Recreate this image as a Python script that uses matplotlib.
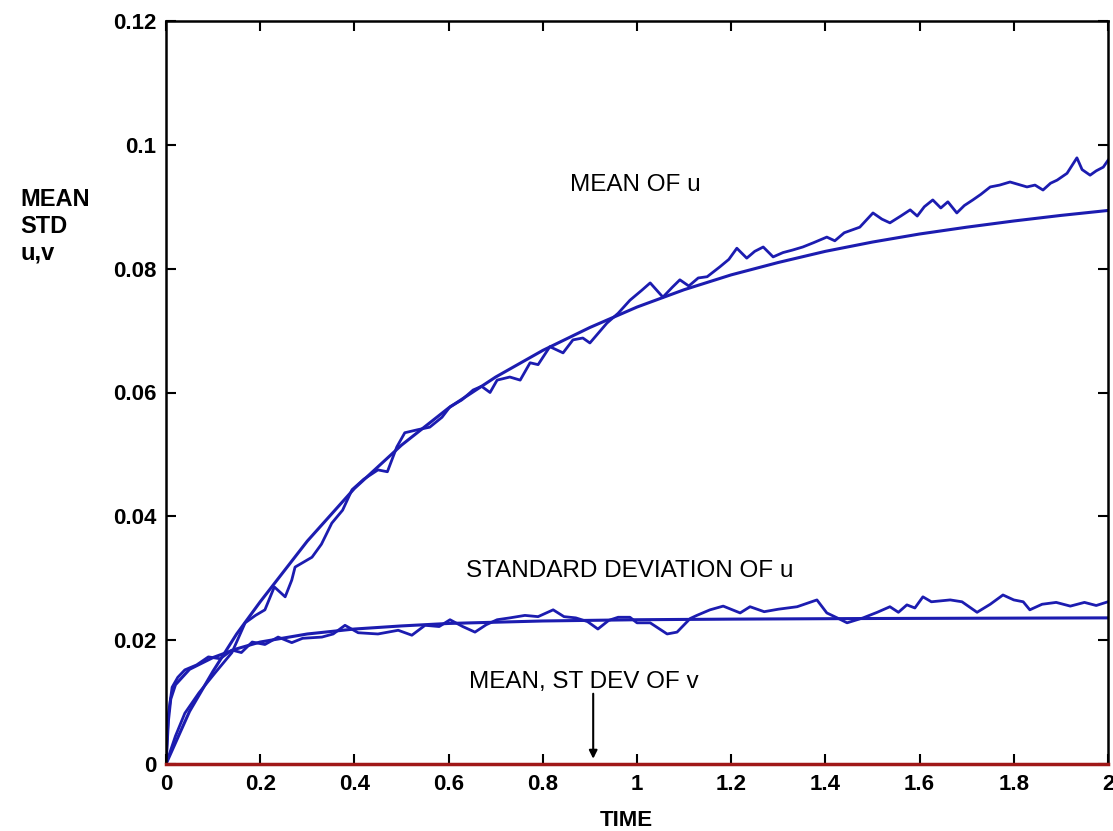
import numpy as np
import matplotlib
matplotlib.use("Agg")
import matplotlib.pyplot as plt

plt.rcParams['font.family'] = ['Liberation Sans', 'DejaVu Sans']

# smooth (theoretical) curves
t_mean_u = [0, 0.05, 0.1, 0.15, 0.2, 0.3, 0.4, 0.5, 0.6, 0.7, 0.8, 0.9, 1.0,
            1.1, 1.2, 1.3, 1.4, 1.5, 1.6, 1.7, 1.8, 1.9, 2.0]
mean_u = [0, 0.0085, 0.0150, 0.0210, 0.0262, 0.0360, 0.0445, 0.0515, 0.0575,
          0.0625, 0.0668, 0.0705, 0.0738, 0.0766, 0.0790, 0.0810, 0.0828,
          0.0843, 0.0856, 0.0867, 0.0877, 0.0886, 0.0894]

t_std_u = [0, 0.005, 0.01, 0.02, 0.05, 0.1, 0.15, 0.2, 0.3, 0.4, 0.5, 0.6,
           0.8, 1.0, 1.2, 1.5, 2.0]
std_u = [0, 0.0070, 0.0105, 0.0128, 0.0153, 0.0172, 0.0186, 0.0197, 0.0210,
         0.0218, 0.0223, 0.0227, 0.0231, 0.0233, 0.0234, 0.0235, 0.0236]

# simulated (noisy) curves
t_mean_sim = [0.000, 0.020, 0.040, 0.070, 0.104, 0.140, 0.168, 0.190, 0.210,
              0.230, 0.253, 0.267, 0.274, 0.310, 0.330, 0.352, 0.375, 0.395,
              0.420, 0.450, 0.470, 0.490, 0.507, 0.535, 0.560, 0.586, 0.603,
              0.628, 0.652, 0.670, 0.688, 0.703, 0.730, 0.752, 0.773, 0.790,
              0.815, 0.843, 0.864, 0.885, 0.900, 0.936, 0.960, 0.985, 1.010,
              1.028, 1.055, 1.075, 1.091, 1.110, 1.130, 1.149, 1.176, 1.195,
              1.212, 1.233, 1.250, 1.268, 1.289, 1.310, 1.330, 1.352, 1.375,
              1.403, 1.420, 1.440, 1.473, 1.501, 1.520, 1.537, 1.560, 1.580,
              1.595, 1.610, 1.628, 1.645, 1.660, 1.679, 1.695, 1.713, 1.730,
              1.750, 1.770, 1.792, 1.810, 1.828, 1.845, 1.862, 1.878, 1.892,
              1.913, 1.934, 1.945, 1.962, 1.975, 1.990, 2.000]
mean_sim = [0.0000, 0.0045, 0.0082, 0.0115, 0.0147, 0.0180, 0.0228, 0.0240,
            0.0249, 0.0286, 0.0270, 0.0297, 0.0318, 0.0334, 0.0355, 0.0389,
            0.0410, 0.0443, 0.0460, 0.0475, 0.0472, 0.0512, 0.0535, 0.0540,
            0.0544, 0.0560, 0.0577, 0.0588, 0.0604, 0.0610, 0.0600, 0.0620,
            0.0625, 0.0620, 0.0648, 0.0645, 0.0674, 0.0664, 0.0685, 0.0688,
            0.0680, 0.0712, 0.0728, 0.0749, 0.0765, 0.0777, 0.0754, 0.0770,
            0.0782, 0.0772, 0.0785, 0.0787, 0.0803, 0.0815, 0.0833, 0.0817,
            0.0828, 0.0835, 0.0819, 0.0826, 0.0830, 0.0835, 0.0842, 0.0851,
            0.0845, 0.0858, 0.0867, 0.0890, 0.0880, 0.0874, 0.0885, 0.0895,
            0.0885, 0.0900, 0.0911, 0.0898, 0.0908, 0.0890, 0.0902, 0.0911,
            0.0920, 0.0932, 0.0935, 0.0940, 0.0936, 0.0932, 0.0935, 0.0927,
            0.0938, 0.0943, 0.0954, 0.0979, 0.0960, 0.0951, 0.0958, 0.0964,
            0.0975]

t_std_sim = [0.000, 0.005, 0.013, 0.025, 0.040, 0.065, 0.090, 0.115, 0.140,
             0.160, 0.183, 0.210, 0.238, 0.267, 0.290, 0.331, 0.355, 0.380,
             0.408, 0.450, 0.493, 0.522, 0.550, 0.580, 0.603, 0.630, 0.656,
             0.680, 0.703, 0.730, 0.762, 0.790, 0.822, 0.845, 0.870, 0.895,
             0.917, 0.940, 0.960, 0.985, 1.000, 1.028, 1.064, 1.085, 1.113,
             1.127, 1.155, 1.183, 1.219, 1.240, 1.270, 1.300, 1.340, 1.382,
             1.403, 1.425, 1.446, 1.480, 1.510, 1.537, 1.555, 1.573, 1.590,
             1.607, 1.625, 1.665, 1.690, 1.722, 1.750, 1.777, 1.800, 1.820,
             1.834, 1.860, 1.890, 1.920, 1.950, 1.975, 2.000]
std_sim = [0.0000, 0.0080, 0.0124, 0.0140, 0.0152, 0.0160, 0.0173, 0.0170,
           0.0184, 0.0180, 0.0197, 0.0193, 0.0205, 0.0196, 0.0203, 0.0205,
           0.0210, 0.0224, 0.0212, 0.0210, 0.0216, 0.0208, 0.0224, 0.0222,
           0.0233, 0.0222, 0.0213, 0.0225, 0.0233, 0.0236, 0.0240, 0.0238,
           0.0249, 0.0238, 0.0236, 0.0230, 0.0218, 0.0232, 0.0237, 0.0237,
           0.0228, 0.0228, 0.0210, 0.0213, 0.0235, 0.0240, 0.0249, 0.0255,
           0.0244, 0.0254, 0.0246, 0.0250, 0.0254, 0.0265, 0.0244, 0.0236,
           0.0228, 0.0236, 0.0245, 0.0254, 0.0245, 0.0257, 0.0252, 0.0270,
           0.0262, 0.0265, 0.0262, 0.0245, 0.0258, 0.0273, 0.0265, 0.0262,
           0.0249, 0.0258, 0.0261, 0.0255, 0.0261, 0.0256, 0.0262]

# mean and std of v stay at zero
t_v = [0, 2]
v_stats = [0, 0]

xticks = [0, 0.2, 0.4, 0.6, 0.8, 1, 1.2, 1.4, 1.6, 1.8, 2]
yticks = [0, 0.02, 0.04, 0.06, 0.08, 0.1, 0.12]
xtick_labels = ['0', '0.2', '0.4', '0.6', '0.8', '1', '1.2', '1.4', '1.6', '1.8', '2']
ytick_labels = ['0', '0.02', '0.04', '0.06', '0.08', '0.1', '0.12']

blue = '#1c1cb0'

fig = plt.figure(figsize=(11.13, 8.31), dpi=100)
ax = fig.add_axes([166/1113, 1 - 764/831, 942/1113, 743/831])

ax.plot(t_mean_u, mean_u, color=blue, lw=2.2)
ax.plot(t_std_u, std_u, color=blue, lw=2.2)
ax.plot(t_mean_sim, mean_sim, color=blue, lw=2)
ax.plot(t_std_sim, std_sim, color=blue, lw=2)
ax.plot(t_v, v_stats, color='#a01818', lw=2.5, clip_on=False, zorder=5)

ax.set_xlim(0, 2)
ax.set_ylim(0, 0.12)
ax.set_xticks(xticks)
ax.set_xticklabels(xtick_labels)
ax.set_yticks(yticks)
ax.set_yticklabels(ytick_labels)
ax.tick_params(direction='in', top=True, right=True, length=7, width=1.5,
               labelsize=16, pad=7)
for lab in ax.get_xticklabels() + ax.get_yticklabels():
    lab.set_fontweight('bold')
for s in ax.spines.values():
    s.set_linewidth(1.8)

ax.text(0.858, 0.0935, 'MEAN OF u', fontsize=17.5, va='center', ha='left')
ax.text(0.637, 0.0312, 'STANDARD DEVIATION OF u', fontsize=17.5, va='center', ha='left')
ax.text(0.643, 0.0132, 'MEAN, ST DEV OF v', fontsize=17.5, va='center', ha='left')
ax.annotate('', xy=(0.907, 0.0004), xytext=(0.907, 0.0118),
            arrowprops=dict(arrowstyle='-|>', color='black', lw=1.5,
                            mutation_scale=12))

fig.text(20/1113, 1 - 188/831, 'MEAN\nSTD\nu,v', fontsize=17, fontweight='bold',
         va='top', ha='left', linespacing=1.2)
fig.text(626/1113, 1 - 820/831, 'TIME', fontsize=16, fontweight='bold',
         va='center', ha='center')

fig.savefig('out.png', dpi=100)
